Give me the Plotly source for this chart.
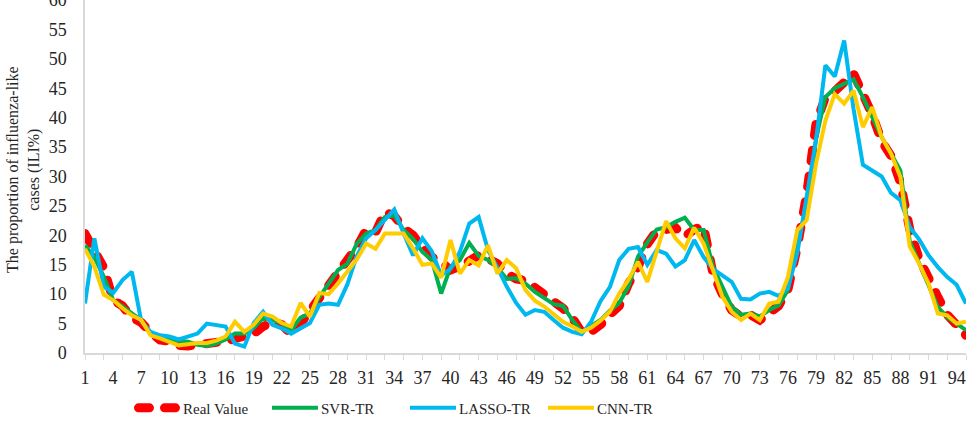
import plotly.graph_objects as go

weeks = list(range(1, 96))
x_tick_labels = [1, 4, 7, 10, 13, 16, 19, 22, 25, 28, 31, 34, 37, 40, 43, 46, 49, 52, 55, 58, 61, 64, 67, 70, 73, 76, 79, 82, 85, 88, 91, 94]
y_tick_labels = [0, 5, 10, 15, 20, 25, 30, 35, 40, 45, 50, 55, 60]

real_value = [20.3, 17.5, 14.5, 9.0, 8.0, 6.0, 5.2, 3.5, 2.2, 2.0,
              1.3, 1.2, 1.5, 1.8, 1.8, 2.0, 2.5, 2.8, 3.3, 4.5,
              5.3, 4.8, 3.2, 5.0, 7.2, 9.8, 11.8, 14.2, 15.8, 18.0,
              20.9, 20.5, 24.0, 23.3, 21.2, 20.0, 18.0, 16.3, 15.5, 14.1,
              14.7, 15.8, 16.6, 16.0, 15.2, 13.5, 12.6, 12.3, 11.2, 10.0,
              8.8, 7.6, 6.0, 3.5, 3.6, 4.8, 6.5, 8.0, 11.8, 14.6,
              18.5, 20.8, 21.0, 21.3, 19.8, 21.0, 21.6, 13.5, 10.0, 7.3,
              6.2, 6.5, 5.6, 6.7, 8.0, 10.8, 18.0, 27.0, 39.0, 43.5,
              44.5, 46.0, 47.5, 44.0, 40.5, 36.0, 33.5, 29.0, 21.0, 16.0,
              12.5, 9.5, 6.5, 4.5, 3.0]

svr_tr = [18.3, 16.3, 13.0, 9.0, 7.9, 6.7, 5.6, 3.3, 2.8, 2.3,
          2.1, 1.9, 1.4, 1.2, 1.6, 2.3, 3.3, 3.3, 4.2, 6.0,
          5.6, 5.1, 3.9, 6.0, 6.7, 9.5, 11.8, 14.1, 15.2, 18.6,
          20.3, 20.9, 23.1, 23.4, 20.9, 19.4, 17.2, 15.8, 10.1, 14.6,
          15.8, 18.7, 16.5, 15.8, 14.5, 12.6, 12.7, 11.8, 10.4, 9.3,
          8.3, 8.0, 5.6, 3.6, 4.7, 5.6, 7.2, 8.5, 11.3, 16.4,
          18.8, 21.0, 21.4, 22.3, 23.0, 20.9, 20.9, 14.7, 11.3, 7.9,
          6.5, 6.7, 6.2, 7.3, 8.1, 10.7, 19.2, 24.5, 36.5, 43.5,
          45.0, 45.8, 46.5, 43.5, 40.1, 36.7, 33.9, 31.0, 19.0, 15.2,
          11.8, 7.8, 6.1, 5.0, 3.9]

lasso_tr = [8.4, 19.5, 11.3, 10.2, 12.4, 13.8, 5.4, 3.6, 3.0, 2.8,
            2.3, 2.8, 3.3, 5.0, 4.8, 4.5, 1.6, 1.1, 5.1, 7.0,
            4.8, 4.2, 3.3, 4.2, 5.1, 8.2, 8.4, 8.2, 11.7, 16.5,
            19.5, 20.9, 22.6, 24.4, 20.3, 16.6, 19.5, 17.3, 13.2, 14.3,
            17.2, 22.0, 23.1, 17.5, 14.5, 11.3, 8.5, 6.5, 7.3, 7.0,
            5.6, 4.3, 3.6, 3.2, 5.3, 8.8, 11.2, 15.8, 17.7, 18.0,
            15.0, 17.5, 16.9, 14.7, 15.8, 19.2, 16.3, 14.3, 13.2, 12.1,
            9.2, 9.1, 10.1, 10.4, 9.7, 11.0, 17.0, 26.5, 36.2, 48.9,
            47.0, 53.1, 41.5, 32.0, 30.9, 30.0, 27.2, 26.0, 21.4, 19.3,
            16.6, 14.6, 12.9, 11.6, 8.4]

cnn_tr = [17.7, 14.7, 9.9, 9.0, 7.6, 6.4, 5.6, 3.0, 2.5, 1.9,
          1.3, 1.5, 1.7, 1.7, 2.1, 2.8, 5.3, 3.6, 4.8, 6.7,
          6.2, 5.1, 4.5, 8.5, 6.2, 10.2, 10.0, 11.8, 13.8, 15.9,
          18.6, 17.7, 20.3, 20.3, 20.3, 17.8, 15.0, 15.2, 12.8, 19.2,
          13.5, 15.8, 14.9, 18.3, 13.5, 15.8, 14.4, 10.7, 8.9, 7.9,
          6.7, 5.3, 4.5, 3.6, 4.3, 5.5, 7.0, 10.1, 12.5, 15.5,
          12.1, 17.5, 22.4, 19.5, 17.8, 21.3, 18.6, 14.1, 9.6, 7.0,
          5.6, 6.7, 5.6, 8.4, 8.7, 12.9, 20.9, 22.6, 32.2, 39.5,
          44.0, 42.4, 44.6, 38.4, 41.8, 36.7, 33.9, 29.9, 18.1, 15.2,
          11.8, 6.7, 6.4, 5.0, 5.3]

FONT = "Liberation Serif, Times New Roman, serif"

fig = go.Figure()
fig.add_trace(go.Scatter(x=weeks, y=real_value, mode="lines", name="Real Value",
                         line=dict(color="#FF0000", width=9, dash="11px,15px")))
fig.add_trace(go.Scatter(x=weeks, y=svr_tr, mode="lines", name="SVR-TR",
                         line=dict(color="#00B050", width=4)))
fig.add_trace(go.Scatter(x=weeks, y=lasso_tr, mode="lines", name="LASSO-TR",
                         line=dict(color="#00B8F0", width=4)))
fig.add_trace(go.Scatter(x=weeks, y=cnn_tr, mode="lines", name="CNN-TR",
                         line=dict(color="#FFCC00", width=4)))

fig.update_layout(
    width=977, height=434,
    margin=dict(l=85, r=11, t=0, b=81, autoexpand=False),
    paper_bgcolor="white", plot_bgcolor="white",
    font=dict(family=FONT, color="#262626"),
    showlegend=True,
    legend=dict(orientation="h", x=0.0556, xanchor="left", y=-0.156, yanchor="middle",
                font=dict(family=FONT, size=15, color="#262626"),
                entrywidth=93, entrywidthmode="pixels",
                bgcolor="rgba(0,0,0,0)"),
    xaxis=dict(range=[1, 95], tickmode="array", tickvals=x_tick_labels,
               ticktext=[str(v) for v in x_tick_labels],
               showline=True, linecolor="#D9D9D9", linewidth=1.5,
               showgrid=False, zeroline=False, ticks="", automargin=False,
               ticklabelstandoff=8,
               tickfont=dict(family=FONT, size=18, color="#262626"),
               minor=dict(ticks="outside", dtick=2, tick0=1, ticklen=5,
                          tickcolor="#D9D9D9", tickwidth=1.2, showgrid=False)),
    yaxis=dict(range=[0, 60], tickmode="array", tickvals=y_tick_labels,
               showline=True, linecolor="#D9D9D9", linewidth=1.5,
               showgrid=False, zeroline=False, ticks="", automargin=False,
               ticklabelstandoff=13, ticklabeloverflow="allow",
               tickfont=dict(family=FONT, size=18, color="#262626")),
    annotations=[dict(text="The proportion of influenza-like<br>cases (ILI%)",
                      xref="paper", yref="paper", x=-0.0698, y=0.52,
                      xanchor="center", yanchor="middle", textangle=-90,
                      showarrow=False,
                      font=dict(family=FONT, size=16, color="#262626"))],
)

post = """
(function(){
  var gd = document.querySelectorAll('.js-plotly-plot')[0];
  var traces = gd.querySelectorAll('.scatterlayer .trace');
  if (traces.length) { traces[0].querySelectorAll('path.js-line').forEach(function(p){p.style.strokeLinecap='round';}); }
  var leg = gd.querySelectorAll('.legend .traces');
  leg.forEach(function(t, i){
    t.querySelectorAll('path.js-line').forEach(function(p){
      if (i === 0) { p.style.strokeLinecap='round'; p.setAttribute('d','M4.5,0h37'); }
      else { p.setAttribute('d','M0,0h46'); }
    });
    t.querySelectorAll('text.legendtext').forEach(function(tx){ tx.setAttribute('x','49'); });
  });
})();
"""
fig.write_html("out.html", post_script=post)
